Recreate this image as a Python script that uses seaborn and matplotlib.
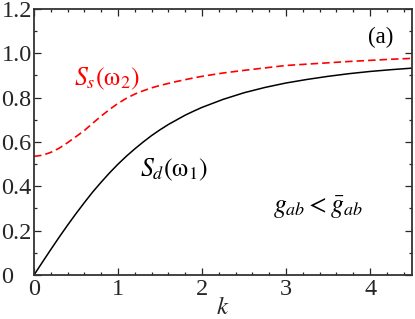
import numpy as np
import pandas as pd
import seaborn as sns
import matplotlib
matplotlib.use("Agg")
import matplotlib.pyplot as plt
from matplotlib.ticker import MultipleLocator, FuncFormatter

# values
k_vals = [0.0, 0.1, 0.2, 0.3, 0.4, 0.5, 0.6, 0.7, 0.8, 0.9, 1.0, 1.1, 1.2, 1.3, 1.4, 1.5,
          1.6, 1.7, 1.8, 1.9, 2.0, 2.25, 2.5, 2.75, 3.0, 3.25, 3.5, 3.75, 4.0, 4.25, 4.5]
s_d = [0.0, 0.058, 0.115, 0.171, 0.225, 0.277, 0.327, 0.375, 0.419, 0.461, 0.500, 0.536,
       0.569, 0.600, 0.629, 0.655, 0.679, 0.700, 0.721, 0.739, 0.756, 0.792, 0.822, 0.846,
       0.866, 0.882, 0.896, 0.908, 0.918, 0.926, 0.933]
s_s = [0.535, 0.540, 0.553, 0.572, 0.597, 0.624, 0.652, 0.685, 0.717, 0.747, 0.774, 0.797,
       0.816, 0.831, 0.844, 0.855, 0.864, 0.873, 0.881, 0.889, 0.896, 0.911, 0.923, 0.934,
       0.945, 0.951, 0.957, 0.963, 0.968, 0.973, 0.977]

df = pd.DataFrame({"k": k_vals, "Sd": s_d, "Ss": s_s})

sns.set_style("ticks")
plt.rcParams["font.family"] = ["Liberation Serif", "DejaVu Serif"]
plt.rcParams["mathtext.fontset"] = "stix"

fig = plt.figure(figsize=(4.15, 3.19), dpi=100)
ax = fig.add_axes([0.082, 0.138, 0.911, 0.834])

sns.lineplot(data=df, x="k", y="Sd", ax=ax, color="black", linewidth=1.1)
sns.lineplot(data=df, x="k", y="Ss", ax=ax, color="#ff0000", linewidth=1.2,
             linestyle=(0, (4.5, 2.4)))

ax.set_xlim(0, 4.5)
ax.set_ylim(0, 1.2)
ax.xaxis.set_major_locator(MultipleLocator(1))
ax.xaxis.set_minor_locator(MultipleLocator(0.2))
ax.yaxis.set_major_locator(MultipleLocator(0.2))
ax.yaxis.set_minor_locator(MultipleLocator(0.1))
ax.xaxis.set_major_formatter(FuncFormatter(lambda v, p: f"{v:g}"))
ax.yaxis.set_major_formatter(FuncFormatter(lambda v, p: "0" if abs(v) < 1e-9 else f"{v:.1f}"))
ax.tick_params(which="both", direction="in", top=True, right=True, labelsize=17.5, width=0.9)
ax.tick_params(which="major", length=5)
# y labels are left-aligned in the reference (the "0" sits at the far left)
ax.tick_params(axis="y", which="major", pad=23.5)
ax.tick_params(axis="x", which="major", pad=3)
ax.tick_params(which="minor", length=2.5)
for lab in ax.get_yticklabels():
    lab.set_horizontalalignment("left")
for sp in ax.spines.values():
    sp.set_linewidth(1.3)
    sp.set_color("#333333")

ax.set_xlabel("$k$", fontsize=18, labelpad=-2)
ax.set_ylabel("")

ax.text(0.476, 0.857, r"$S_s(\mathrm{\omega}_2)$", color="#ff0000", fontsize=18.5, va="baseline")
ax.text(1.26, 0.443, r"$S_d(\mathrm{\omega}_1)$", color="black", fontsize=18.5, va="baseline")
ax.text(2.84, 0.28, r"$g_{ab} < \bar{g}_{ab}$", color="black", fontsize=18.5, va="baseline")
ax.text(3.97, 1.046, "(a)", color="black", fontsize=16.5, va="baseline")

fig.savefig("out.png", dpi=100)
